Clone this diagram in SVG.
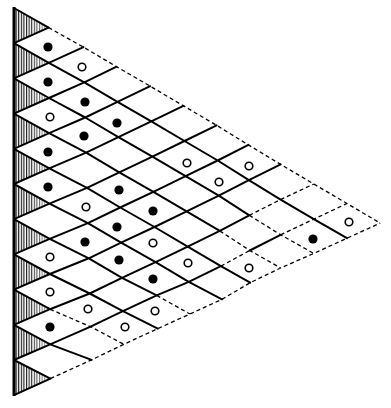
<svg xmlns="http://www.w3.org/2000/svg" width="391" height="408" viewBox="0 0 391 408">
<defs>
<pattern id="hatch" patternUnits="userSpaceOnUse" width="2.6" height="4">
<rect x="0" y="0" width="1.1" height="4" fill="#000"/>
</pattern>
<linearGradient id="fade" x1="0" y1="0" x2="1" y2="0">
<stop offset="0" stop-color="#fff" stop-opacity="0"/>
<stop offset="0.45" stop-color="#fff" stop-opacity="0.15"/>
<stop offset="1" stop-color="#fff" stop-opacity="0.85"/>
</linearGradient>
<style>
.s{fill:none;stroke:#000;stroke-width:2;stroke-linejoin:round;stroke-linecap:round}
.d{fill:none;stroke:#000;stroke-width:1.3;stroke-dasharray:4 3}
.h{fill:url(#hatch);stroke:none}
.f{fill:#000}
.o{fill:#fff;stroke:#000;stroke-width:1.6}
</style>
</defs>
<rect width="391" height="408" fill="#fff"/>
<g id="left-edge">
<polygon class="h" points="14,8 48.6,27.6 14,43.2"/>
<polygon class="h" points="14,43.2 48.8,62.8 14,78.4"/>
<polygon class="h" points="14,78.4 49,98 14,113.6"/>
<polygon class="h" points="14,113.6 49.1,133.2 14,148.8"/>
<polygon class="h" points="14,148.8 49.3,168.4 14,184"/>
<polygon class="h" points="14,184 49.5,203.6 14,219.2"/>
<polygon class="h" points="14,219.2 49.7,238.8 14,254.4"/>
<polygon class="h" points="14,254.4 49.9,274 14,289.6"/>
<polygon class="h" points="14,289.6 50,309.2 14,324.8"/>
<polygon class="h" points="14,324.8 50.2,344.4 14,360"/>
<polygon class="h" points="14,360 50.4,378.6 14,395.2"/>
<rect x="15" y="7" width="37" height="390" fill="url(#fade)"/>
<line x1="14" y1="7" x2="14" y2="396" stroke="#000" stroke-width="3"/>
</g>
<g id="connectors">
<path class="s" d="M14,8 L48.6,27.6
M14,43.2 L48.8,62.8 L84.3,82.3 L117.5,101.9 L151.3,121.4 L184.5,141 L217.7,160.5 L248.9,180.1 L280.6,199.6 L313.8,219.2 L347,238.2
M14,78.4 L49,98 L85.2,117.5 L118.4,137.1 L152.4,156.6 L185.6,176.2 L218.8,195.7 L249.3,215.3
M14,113.6 L49.1,133.2 L86.1,152.7 L119.3,172.3 L153.4,191.8 L186.6,211.4 L219.8,230.9
M14,148.8 L49.3,168.4 L87,187.9 L120.2,207.5 L154.5,227 L187.7,246.6 L220.9,266.1 L250.2,282.7
M14,184 L49.5,203.6 L87.9,223.1 L121.1,242.7 L155.6,262.2 L188.8,281.8 L222,299.3
M14,219.2 L49.7,238.8 L88.8,258.3 L122,277.9 L156.7,295.4
M14,254.4 L49.9,274 L89.7,293.5 L122.9,311.1 L157.8,328.6
M14,289.6 L50,309.2
M14,324.8 L50.2,344.4 L91.5,359.9
M14,360 L50.4,378.6
M14,43.2 L48.6,27.6
M14,78.4 L48.8,62.8 L83.4,47.1
M14,113.6 L49,98 L84.3,82.3 L116.6,66.7
M14,148.8 L49.1,133.2 L85.2,117.5 L117.5,101.9 L150.2,86.2
M14,184 L49.3,168.4 L86.1,152.7 L118.4,137.1 L151.3,121.4 L183.4,105.8
M14,219.2 L49.5,203.6 L87,187.9 L119.3,172.3 L152.4,156.6 L184.5,141 L216.6,125.3
M14,254.4 L49.7,238.8 L87.9,223.1 L120.2,207.5 L153.4,191.8 L185.6,176.2 L217.7,160.5 L248.4,144.9
M14,289.6 L49.9,274 L88.8,258.3 L121.1,242.7 L154.5,227 L186.6,211.4 L218.8,195.7 L248.9,180.1 L280.6,164.4
M14,324.8 L50,309.2 L89.7,293.5 L122,277.9 L155.6,262.2 L187.7,246.6 L219.8,230.9 L249.3,215.3
M14,360 L50.2,344.4 L90.6,326.7 L122.9,311.1 L156.7,295.4 L188.8,281.8 L220.9,266.1
M249.8,250.5 L280.6,234.8
M14,395.2 L50.4,378.6"/>
<path class="d" d="M48.6,27.6 L83.4,47.1 L116.6,66.7 L150.2,86.2 L183.4,105.8 L216.6,125.3 L248.4,144.9 L280.6,164.4 L313.8,184 L347,203.5 L380.2,223.1
M249.3,215.3 L280.6,234.8 L313.8,253.4
M219.8,230.9 L249.8,250.5 L280.6,268
M156.7,295.4 L189.9,314
M50,309.2 L90.6,326.7 L123.8,344.3
M249.3,215.3 L280.6,199.6 L313.8,184
M220.9,266.1 L249.8,250.5
M280.6,234.8 L313.8,219.2 L347,203.5
M50.4,378.6 L91.5,359.9 L123.8,344.3 L157.8,328.6 L189.9,314 L222,299.3 L250.2,282.7 L280.6,268 L313.8,253.4 L347,238.2 L380.2,223.1"/>
</g>
<g id="dots">
<circle class="f" cx="48" cy="47" r="4.6"/>
<circle class="f" cx="48" cy="82" r="4.6"/>
<circle class="f" cx="85" cy="102" r="4.6"/>
<circle class="f" cx="117" cy="123" r="4.6"/>
<circle class="f" cx="84" cy="136" r="4.6"/>
<circle class="f" cx="48" cy="152" r="4.6"/>
<circle class="f" cx="48" cy="187" r="4.6"/>
<circle class="f" cx="119" cy="190" r="4.6"/>
<circle class="f" cx="153" cy="211" r="4.6"/>
<circle class="f" cx="117" cy="227" r="4.6"/>
<circle class="f" cx="85" cy="242" r="4.6"/>
<circle class="f" cx="119" cy="260" r="4.6"/>
<circle class="f" cx="153" cy="279" r="4.6"/>
<circle class="f" cx="50" cy="327" r="4.6"/>
<circle class="f" cx="313" cy="239" r="4.6"/>
<circle class="o" cx="82" cy="67" r="3.8"/>
<circle class="o" cx="50" cy="117" r="3.8"/>
<circle class="o" cx="187" cy="163" r="3.8"/>
<circle class="o" cx="249" cy="166" r="3.8"/>
<circle class="o" cx="219" cy="182" r="3.8"/>
<circle class="o" cx="86" cy="207" r="3.8"/>
<circle class="o" cx="153" cy="243" r="3.8"/>
<circle class="o" cx="50" cy="257" r="3.8"/>
<circle class="o" cx="188" cy="263" r="3.8"/>
<circle class="o" cx="249" cy="268" r="3.8"/>
<circle class="o" cx="50" cy="292" r="3.8"/>
<circle class="o" cx="88" cy="309" r="3.8"/>
<circle class="o" cx="155" cy="311" r="3.8"/>
<circle class="o" cx="125" cy="327" r="3.8"/>
<circle class="o" cx="349" cy="222" r="3.8"/>
</g>
</svg>
